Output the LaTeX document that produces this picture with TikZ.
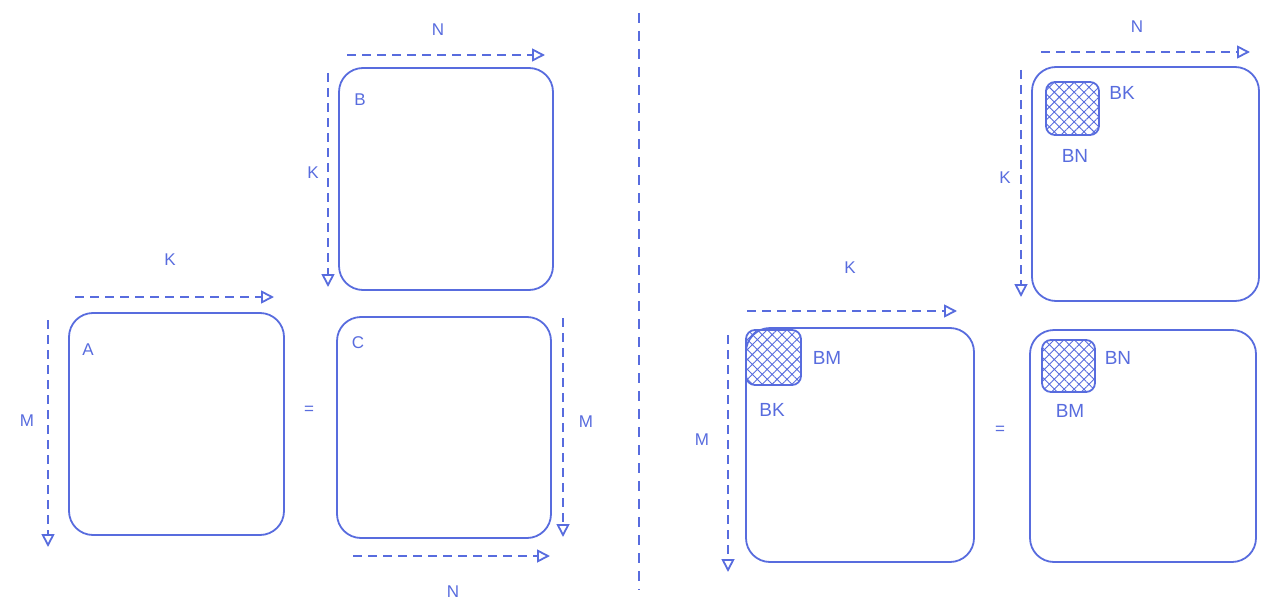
\documentclass[tikz,border=0pt]{standalone}
\usepackage{fontspec}
\setmainfont{Liberation Sans}
\usetikzlibrary{arrows.meta,patterns.meta}
\definecolor{ink}{RGB}{88,108,222}

\begin{document}
\begin{tikzpicture}[x=1pt,y=-1pt,
    every node/.style={text=ink,font=\fontsize{17}{19}\selectfont},
    blk/.style={font=\fontsize{19}{21}\selectfont},
    mat/.style args={#1x#2}{draw=ink,line width=1.8pt,rounded corners=24pt,
      minimum width=#1,minimum height=#2,inner sep=0pt},
    tile/.style args={#1x#2}{draw=ink,line width=1.8pt,rounded corners=9pt,
      minimum width=#1,minimum height=#2,inner sep=0pt,
      pattern={Hatch[angle=45,distance=7pt,line width=0.9pt]},pattern color=ink},
    dim/.style={draw=ink,line width=1.8pt,dash pattern=on 9pt off 6pt,
      -{Triangle[open,length=13pt,width=13pt,line width=1.8pt]}}]
  \useasboundingbox (0,0) rectangle (1280,602);

  % left: plain matmul
  \node[mat=215x222] (A) at (176.5,424) {};
  \node[mat=214x221] (C) at (444,427.5) {};
  \node[mat=214x222] (B) at (446,179) {};
  \node (Alab) at (88,350) {A};
  \node (Clab) at (358,343) {C};
  \node (Blab) at (360,100) {B};
  \node (eq1) at (309,410) {=};

  % right: blocked matmul
  \node[mat=228x234] (A2) at (860,445) {};
  \node[mat=226x232] (C2) at (1143,446) {};
  \node[mat=227x234] (B2) at (1145.5,184) {};
  \node[tile=55x55] (tA) at (773.5,357.5) {};
  \node[tile=53x52] (tC) at (1068.5,366) {};
  \node[tile=53x53] (tB) at (1072.5,108.5) {};
  \node (eq2) at (1000,430) {=};
  \foreach \n/\t/\x/\y in {a1/BM/827/358, a2/BK/772/410, c1/BN/1118/358,
                           c2/BM/1070/411, b1/BK/1122/93, b2/BN/1075/156}
    \node[blk] (\n) at (\x,\y) {\t};

  % dimension arrows
  \foreach \n/\x/\y/\xx/\yy/\t/\tx/\ty in {
      1/75/297/274/297/K/170/260,   2/48/320/48/547/M/27/421,
      3/563/318/563/537/M/586/422,  4/353/556/550/556/N/453/592,
      5/347/55/545/55/N/438/30,     6/328/73/328/287/K/313/173,
      7/747/311/957/311/K/850/268,  8/728/335/728/572/M/702/440,
      9/1041/52/1250/52/N/1137/27,  10/1021/70/1021/297/K/1005/178}
  {
    \coordinate (d\n s) at (\x,\y);
    \coordinate (d\n e) at (\xx,\yy);
    \draw[dim] (d\n s) -- (d\n e);
    \node (l\n) at (\tx,\ty) {\t};
  }

  % divider
  \coordinate (top) at (639,13);
  \coordinate (bot) at (639,590);
  \draw[ink,line width=1.8pt,dash pattern=on 10pt off 8pt] (top) -- (bot);
\end{tikzpicture}
\end{document}
